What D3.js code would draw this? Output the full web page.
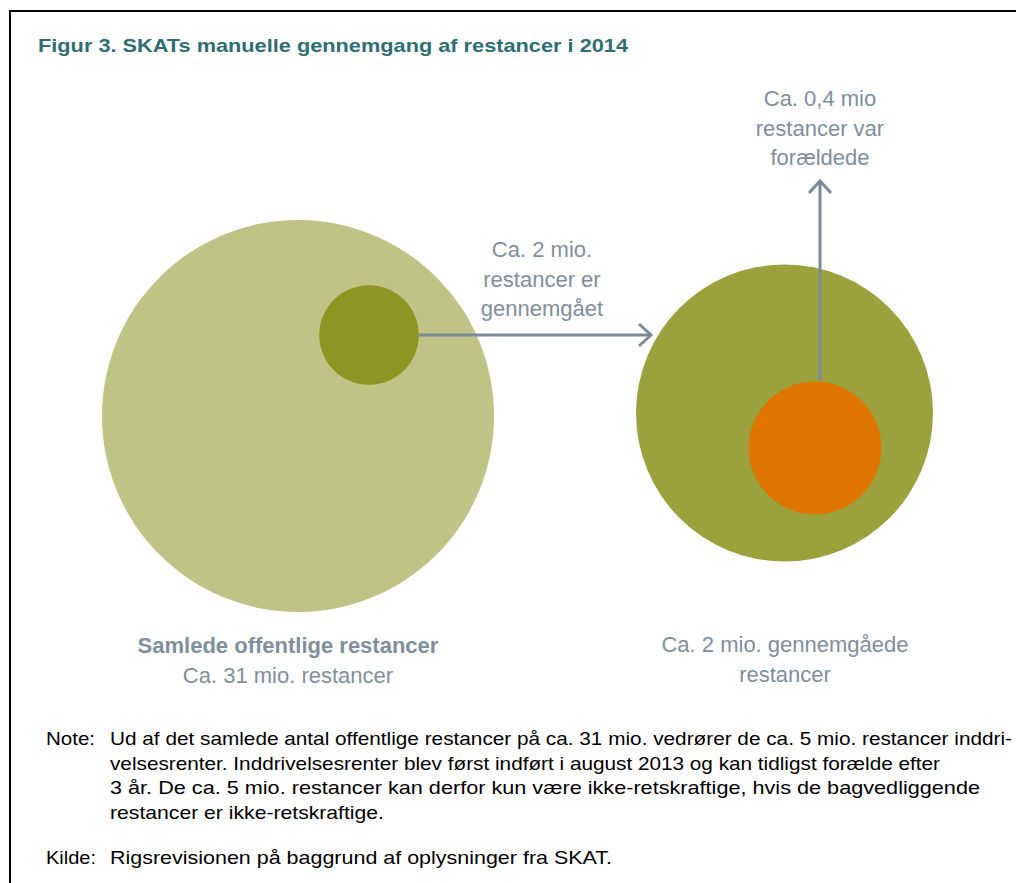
<!DOCTYPE html>
<html>
<head>
<meta charset="utf-8">
<script src="https://cdn.jsdelivr.net/npm/d3@7"></script>
<style>
  body { margin: 0; background: #fff; }
  svg { display: block; font-family: "Liberation Sans", Arial, sans-serif; }
</style>
</head>
<body>
<div id="chart-area"></div>
<script>
// values (mio. restancer)
const totalMio = 31;
const reviewedMio = 2;
const expiredMio = 0.4;

const titleText = 'Figur 3. SKATs manuelle gennemgang af restancer i 2014';
const arrowLabel1 = ['Ca. 2 mio.', 'restancer er', 'gennemgået'];
const arrowLabel2 = ['Ca. 0,4 mio', 'restancer var', 'forældede'];
const leftCaption = ['Samlede offentlige restancer', 'Ca. 31 mio. restancer'];
const rightCaption = ['Ca. 2 mio. gennemgåede', 'restancer'];
const noteLines = [
  'Ud af det samlede antal offentlige restancer på ca. 31 mio. vedrører de ca. 5 mio. restancer inddri-',
  'velsesrenter. Inddrivelsesrenter blev først indført i august 2013 og kan tidligst forælde efter',
  '3 år. De ca. 5 mio. restancer kan derfor kun være ikke-retskraftige, hvis de bagvedliggende',
  'restancer er ikke-retskraftige.'
];
const noteWidths = [902, 830, 870, 274];
const kildeText = 'Rigsrevisionen på baggrund af oplysninger fra SKAT.';

const width = 1016;
const height = 883;
const grey = '#7b8b98';

const svg = d3.select('#chart-area').append('svg')
  .attr('width', width)
  .attr('height', height);

// frame
svg.append('path')
  .attr('d', `M10,${height} V11 H${width}`)
  .attr('fill', 'none')
  .attr('stroke', '#000')
  .attr('stroke-width', 2);

svg.append('text')
  .attr('x', 38).attr('y', 52)
  .attr('fill', '#2e6e73')
  .attr('font-size', 18.5)
  .attr('font-weight', 'bold')
  .attr('textLength', 590)
  .attr('lengthAdjust', 'spacingAndGlyphs')
  .text(titleText);

// radius scales per panel
const rLeft = d3.scaleSqrt().domain([0, totalMio]).range([0, 196]);
const rRight = d3.scaleSqrt().domain([0, reviewedMio]).range([0, 148.5]);

const bigC = { x: 298, y: 416 };
const smallC = { x: 369, y: 335 };
const rightC = { x: 784.5, y: 413 };
const orangeC = { x: 815, y: 448 };

svg.append('circle').attr('cx', bigC.x).attr('cy', bigC.y)
  .attr('r', rLeft(totalMio)).attr('fill', '#bfc386');
svg.append('circle').attr('cx', smallC.x).attr('cy', smallC.y)
  .attr('r', rLeft(reviewedMio)).attr('fill', '#8e9623');
svg.append('circle').attr('cx', rightC.x).attr('cy', rightC.y)
  .attr('r', rRight(reviewedMio)).attr('fill', '#9ba13c');
svg.append('circle').attr('cx', orangeC.x).attr('cy', orangeC.y)
  .attr('r', rRight(expiredMio)).attr('fill', '#de7600');

// arrows
const arrows = svg.append('g')
  .attr('stroke', grey).attr('stroke-width', 3).attr('fill', 'none');
const hy = smallC.y;
const hx0 = smallC.x + rLeft(reviewedMio);
const hx1 = 651;
arrows.append('line').attr('x1', hx0).attr('y1', hy).attr('x2', hx1).attr('y2', hy);
arrows.append('path').attr('d', `M${hx1 - 12},${hy - 11} L${hx1},${hy} L${hx1 - 12},${hy + 11}`);

const vx = 820;
const vy0 = 380;
const vy1 = 181;
arrows.append('line').attr('x1', vx).attr('y1', vy0).attr('x2', vx).attr('y2', vy1);
arrows.append('path').attr('d', `M${vx - 11},${vy1 + 12} L${vx},${vy1} L${vx + 11},${vy1 + 12}`);

function block(lines, x, y0, lh, opts = {}) {
  svg.append('g').selectAll('text')
    .data(lines)
    .join('text')
    .attr('x', x)
    .attr('y', (d, i) => y0 + i * lh)
    .attr('text-anchor', 'middle')
    .attr('fill', '#7f8f9b')
    .attr('font-size', 22)
    .attr('font-weight', (d, i) => (opts.boldFirst && i === 0 ? 'bold' : 'normal'))
    .text((d) => d);
}

block(arrowLabel1, 542, 257, 29.5);
block(arrowLabel2, 820, 106, 29.5);
block(leftCaption, 288, 653, 29.5, { boldFirst: true });
block(rightCaption, 785, 652, 29.5);

// note
const note = svg.append('g').attr('fill', '#000').attr('font-size', 18.5);
note.append('text').attr('x', 46).attr('y', 745)
  .attr('textLength', 49).attr('lengthAdjust', 'spacingAndGlyphs').text('Note:');
note.selectAll('text.line')
  .data(noteLines)
  .join('text')
  .attr('class', 'line')
  .attr('x', 110)
  .attr('y', (d, i) => 745 + i * 24.7)
  .attr('textLength', (d, i) => noteWidths[i])
  .attr('lengthAdjust', 'spacingAndGlyphs')
  .text((d) => d);

note.append('text').attr('x', 46).attr('y', 864)
  .attr('textLength', 50).attr('lengthAdjust', 'spacingAndGlyphs').text('Kilde:');
note.append('text').attr('x', 110).attr('y', 864)
  .attr('textLength', 502).attr('lengthAdjust', 'spacingAndGlyphs')
  .text(kildeText);
</script>
</body>
</html>
